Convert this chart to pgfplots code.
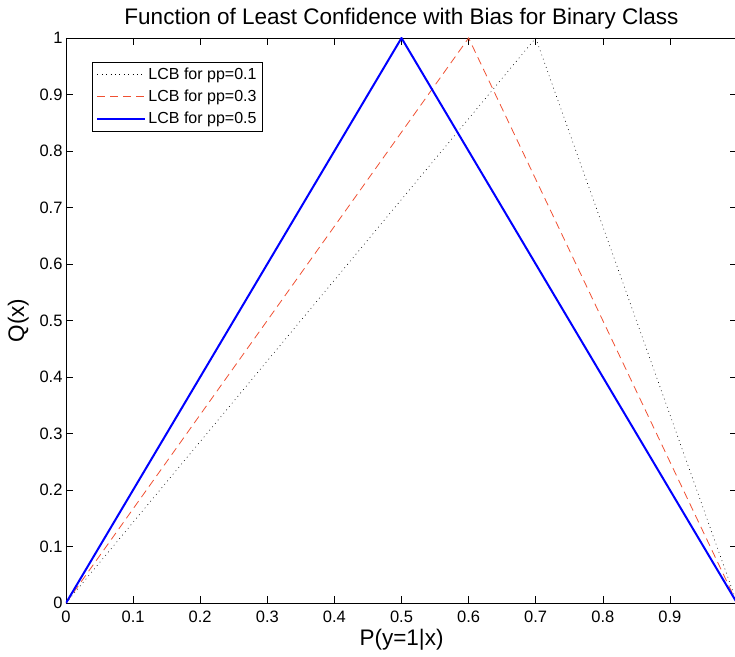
\documentclass[border=0pt]{standalone}
\usepackage{fontspec}
\setmainfont{Liberation Sans}
\usepackage{pgfplots}
\pgfplotsset{compat=1.18}
\definecolor{lcbred}{RGB}{240,80,50}
\definecolor{lcbblue}{RGB}{0,0,255}

\begin{document}
\begin{tikzpicture}
\begin{axis}[
    scale only axis, width=671pt, height=565pt,
    xmin=0, xmax=1, ymin=0, ymax=1,
    xtick={0,0.1,...,0.9}, ytick={0,0.1,...,1},
    tick align=inside, major tick length=7pt,
    tick style={black, line width=0.6pt},
    axis line style={line width=0.8pt},
    tick label style={font=\fontsize{16.5}{17}\selectfont},
    /pgf/number format/assume math mode=true,
    xticklabel style={yshift=-4pt},
    title={Function of Least Confidence with Bias for Binary Class},
    title style={font=\fontsize{22.5}{23}\selectfont, yshift=-1pt},
    xlabel={P(y=1|x)}, ylabel={Q(x)},
    xlabel style={font=\fontsize{22.5}{23}\selectfont, yshift=0pt},
    ylabel style={font=\fontsize{22.5}{23}\selectfont, yshift=4pt},
    legend style={at={(0.039,0.958)}, anchor=north west, draw=black,
        line width=0.6pt, font=\fontsize{16}{17}\selectfont,
        row sep=5pt, inner sep=4pt},
    legend cell align=left,
    legend image code/.code={\draw[#1] (0pt,0pt) -- (48pt,0pt);},
]
\coordinate (sw) at (rel axis cs:0,0);
\coordinate (ne) at (rel axis cs:1,1);
\addplot[black, line width=0.6pt, dash pattern=on 0.8pt off 3.6pt] coordinates {(0,0) (0.7,1) (1,0)};
\addlegendentry{LCB for pp=0.1}
\addplot[lcbred, line width=0.8pt, dash pattern=on 8pt off 5pt] coordinates {(0,0) (0.6,1) (1,0)};
\addlegendentry{LCB for pp=0.3}
\addplot[lcbblue, line width=2pt] coordinates {(0,0) (0.5,1) (1,0)};
\addlegendentry{LCB for pp=0.5}
\end{axis}
\pgfresetboundingbox
\path[use as bounding box] ([xshift=-66pt,yshift=-53pt]sw) rectangle ([xshift=-2pt,yshift=38pt]ne);
\end{tikzpicture}
\end{document}
